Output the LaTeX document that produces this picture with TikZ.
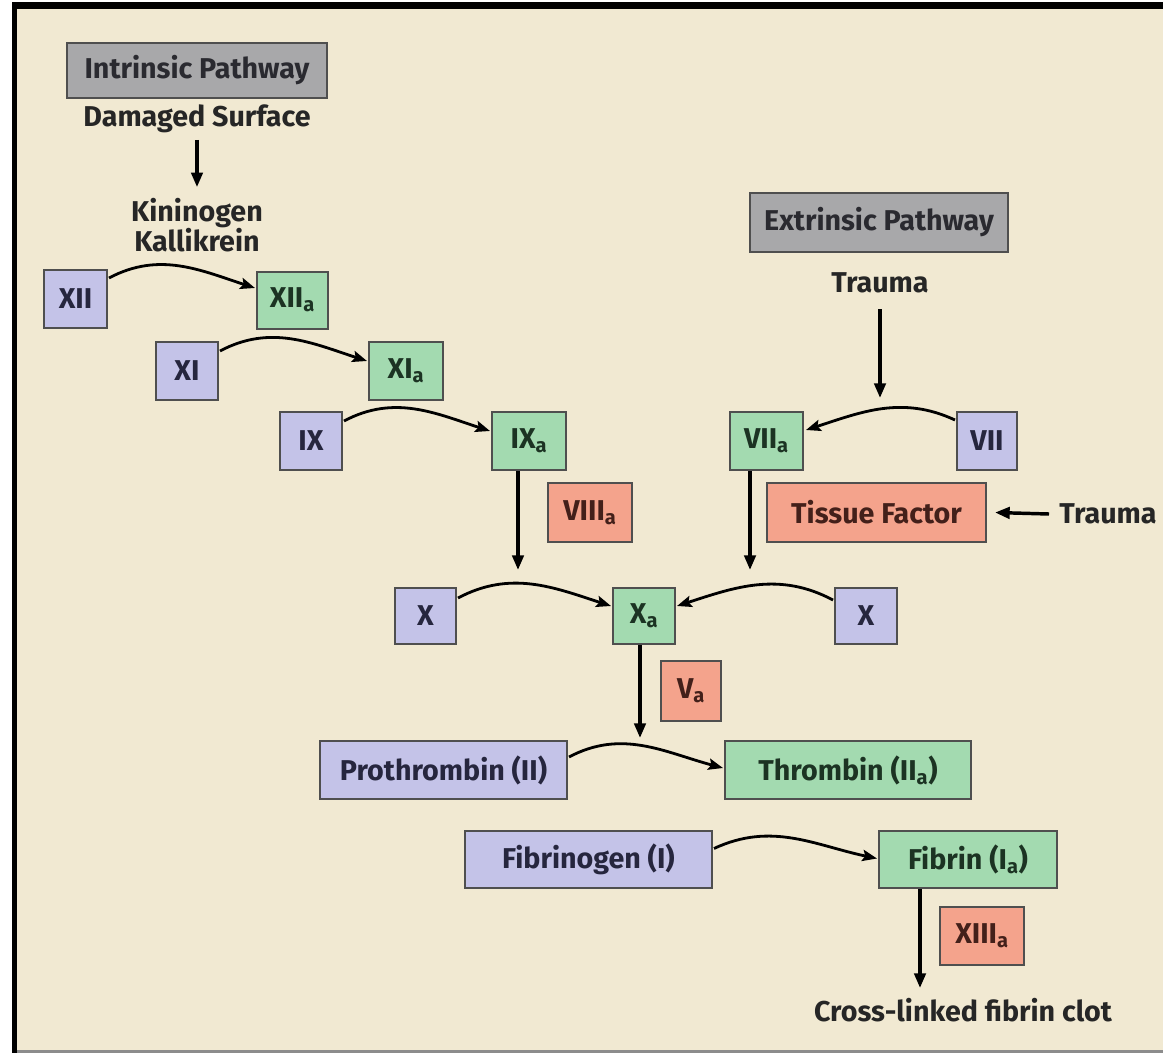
\documentclass[tikz,border=0pt]{standalone}
\usepackage{fontspec}
\setmainfont{Fira Sans}
\usetikzlibrary{arrows.meta,calc}
\definecolor{bg}{HTML}{F1E9D2}
\definecolor{grayfill}{HTML}{A8A8AA}
\definecolor{lav}{HTML}{C4C3E8}
\definecolor{grn}{HTML}{A3DAB0}
\definecolor{sal}{HTML}{F4A38C}
\definecolor{edgec}{HTML}{4F4F4F}
\definecolor{ink}{HTML}{262626}
\definecolor{inkgray}{HTML}{2A2A30}
\definecolor{inklav}{HTML}{26263E}
\definecolor{inkgrn}{HTML}{1C3323}
\definecolor{inksal}{HTML}{43201A}
\newcommand{\sub}[1]{\textsubscript{#1}}
\begin{document}
\begin{tikzpicture}[x=0.75pt,y=-0.75pt,
  font=\fontsize{21.5}{22.5}\selectfont\bfseries,
  box/.style={draw=edgec, line width=1.5pt, inner sep=0pt},
  wh/.style 2 args={minimum width=#1*0.75pt, minimum height=#2*0.75pt},
  pathbox/.style={box, fill=grayfill, text=inkgray},
  inact/.style={box, fill=lav, text=inklav},
  act/.style={box, fill=grn, text=inkgrn},
  cof/.style={box, fill=sal, text=inksal},
  lbl/.style={text=ink, inner sep=0pt, align=center},
  varrow/.style={line width=2.6pt, -{Triangle[length=11pt,width=8.5pt]}},
  carc/.style={line width=2.1pt, -{Stealth[length=11pt,width=8.5pt,inset=2pt]}}
]
\useasboundingbox (0,0) rectangle (1163,1053);
% background and frame
\fill[white] (0,0) rectangle (1163,1053);
\fill[black] (12,2) rectangle (1163,1053);
\fill[bg] (17,9) rectangle (1163,1050);
\fill[black!45] (17,1050) rectangle (1163,1053);

% pathway headers
\node[pathbox, wh={260}{55}] (intr) at (197,70.5) {Intrinsic Pathway};
\node[pathbox, wh={258}{59}] (ext) at (879,222.5) {Extrinsic Pathway};

% plain texts
\node[lbl] (dmg) at (197,119) {Damaged Surface};
\node[lbl] (kin) at (197,225) {Kininogen\\Kallikrein};
\node[lbl] (tr1) at (880,283) {Trauma};
\node[lbl] (tr2) at (1108,514) {Trauma};
\node[lbl] (clot) at (963,1010) {Cross-linked fibrin clot};

% factor boxes
\node[inact, wh={63}{58}] (xii) at (75.5,299) {XII};
\node[act, wh={71}{57}] (xiia) at (292.5,300) {XII\sub{a}};
\node[inact, wh={62}{58}] (xi) at (187,371) {XI};
\node[act, wh={74}{58}] (xia) at (406,371) {XI\sub{a}};
\node[inact, wh={62}{58}] (ix) at (311,441) {IX};
\node[act, wh={74}{58}] (ixa) at (529,441) {IX\sub{a}};
\node[cof, wh={84}{59}] (viiia) at (590,512.5) {VIII\sub{a}};
\node[act, wh={73}{58}] (viia) at (766.5,441) {VII\sub{a}};
\node[inact, wh={60}{58}] (vii) at (987,441) {VII};
\node[cof, wh={219}{59}] (tf) at (876.5,512.5) {Tissue Factor};
\node[inact, wh={61}{56}] (xl) at (425.5,616) {X};
\node[act, wh={62}{56}] (xa) at (644,616) {X\sub{a}};
\node[inact, wh={62}{56}] (xr) at (866,616) {X};
\node[cof, wh={60}{60}] (va) at (691,691) {V\sub{a}};
\node[inact, wh={247}{58}] (pro) at (443.5,770) {Prothrombin (II)};
\node[act, wh={246}{58}] (thr) at (848,770) {Thrombin (II\sub{a})};
\node[inact, wh={247}{57}] (fbg) at (588.5,859.5) {Fibrinogen (I)};
\node[act, wh={178}{57}] (fbn) at (968,859.5) {Fibrin (I\sub{a})};
\node[cof, wh={84}{58}] (xiiia) at (982,936) {XIII\sub{a}};

% free arrow ends
\coordinate (t1end) at (880,398);
\coordinate (ixend) at (518,570);
\coordinate (viiend) at (750,570);
\coordinate (xaend) at (640,738);
\coordinate (fbnend) at (920,988);
\coordinate (tr2start) at (1049,514);

% vertical arrows
\draw[varrow] ([yshift=-5pt]dmg.south) -- ([yshift=8pt]kin.north);
\draw[varrow] ([yshift=-12pt]tr1.south) -- (t1end);
\draw[varrow] (ixa.south -| ixend) -- (ixend);
\draw[varrow] (viia.south -| viiend) -- (viiend);
\draw[varrow] (xa.south -| xaend) -- (xaend);
\draw[varrow] (fbn.south -| fbnend) -- (fbnend);
\draw[varrow] (tr2start) -- ([xshift=6pt]tf.east);

% conversion arcs
\draw[carc] ($(xii.east)+(1,-21)$) to[out=28,in=162] ($(xiia.west)+(-1,-12)$);
\draw[carc] ($(xi.east)+(1,-20)$) to[out=28,in=162] ($(xia.west)+(-1,-10)$);
\draw[carc] ($(ix.east)+(1,-20)$) to[out=28,in=162] ($(ixa.west)+(-1,-10)$);
\draw[carc] ($(vii.west)+(-1,-21)$) to[out=155,in=18] ($(viia.east)+(2,-11)$);
\draw[carc] ($(xl.east)+(1,-18)$) to[out=28,in=162] ($(xa.west)+(-1,-10)$);
\draw[carc] ($(xr.west)+(-1,-16)$) to[out=152,in=18] ($(xa.east)+(1,-10)$);
\draw[carc] ($(pro.east)+(1,-13)$) to[out=28,in=165] ($(thr.west)+(-1,-2)$);
\draw[carc] ($(fbg.east)+(1,-11)$) to[out=25,in=168] ($(fbn.west)+(-1,-1)$);
\end{tikzpicture}
\end{document}
